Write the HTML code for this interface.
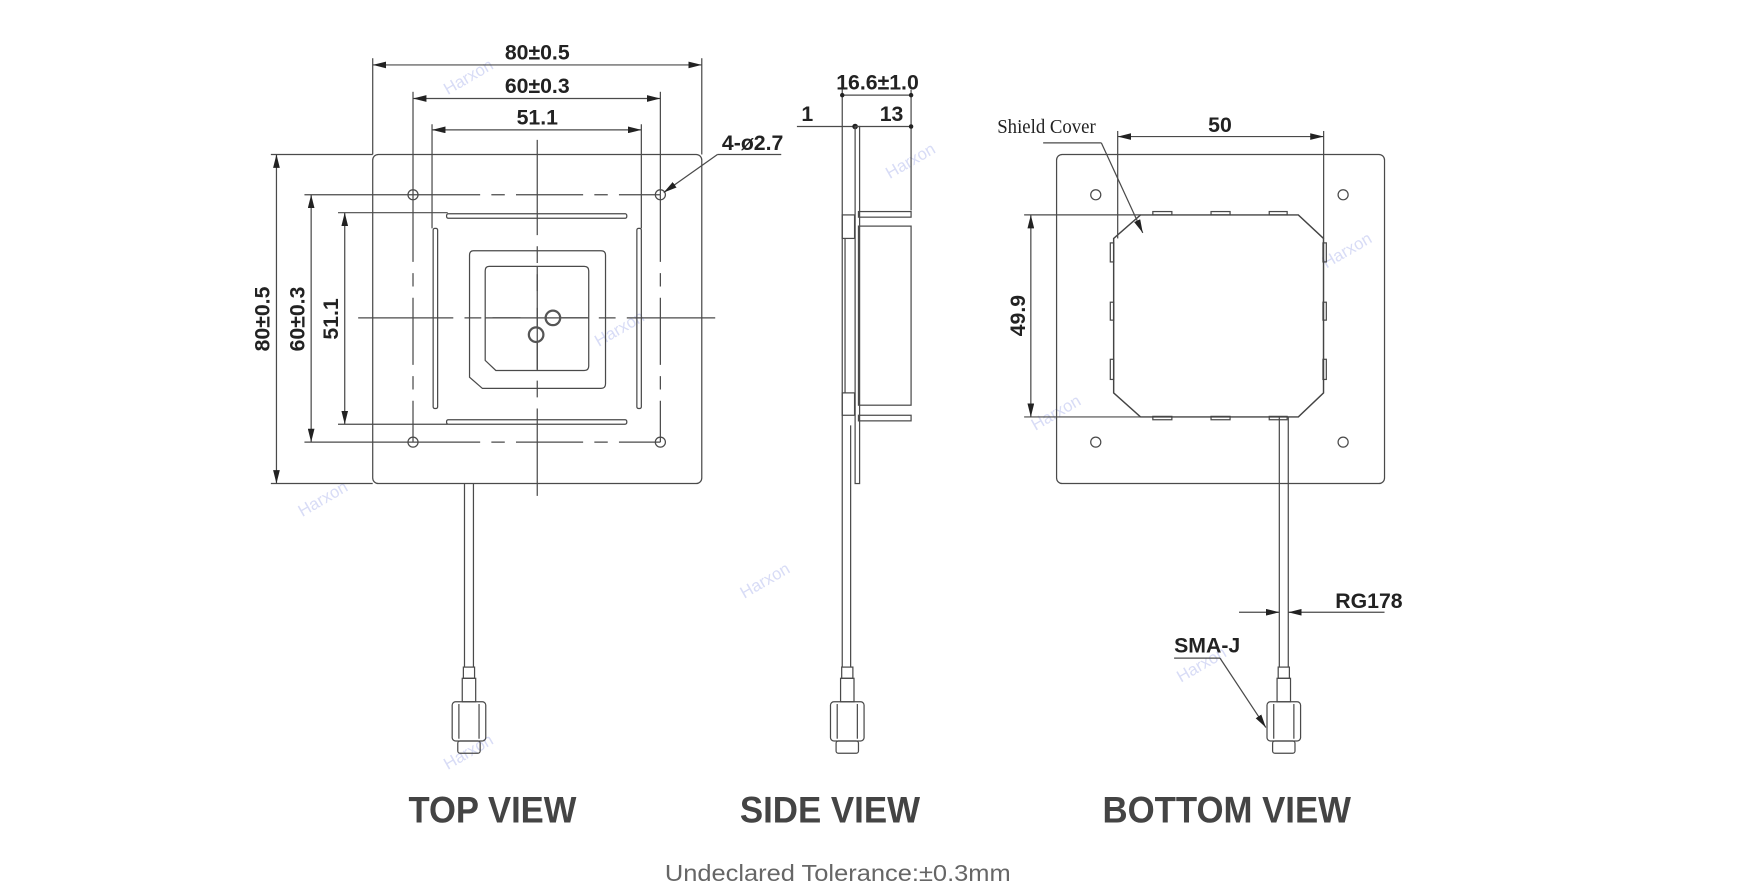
<!DOCTYPE html>
<html><head><meta charset="utf-8"><style>
html,body{margin:0;padding:0;background:#fff;}
svg{display:block;}
.l{stroke:#4a4a4a;stroke-width:1.1;fill:none;}
.t{stroke:#444;stroke-width:1.3;fill:none;}
.d{font-family:"Liberation Sans Narrow","Liberation Sans",sans-serif;font-weight:bold;fill:#222;font-size:19px;}
.v{font-family:"Liberation Sans Narrow","Liberation Sans",sans-serif;fill:#444;font-size:33px;font-weight:bold;}
.w{font-family:"Liberation Sans",sans-serif;fill:#d8dcf6;font-size:15px;}
</style></head><body>
<svg width="1755" height="895" viewBox="0 0 1568 799.6" xmlns="http://www.w3.org/2000/svg">
<defs>
<marker id="a" viewBox="0 0 12 6" refX="12" refY="3" markerWidth="12" markerHeight="6" orient="auto-start-reverse" markerUnits="userSpaceOnUse"><path d="M0,0 L12,3 L0,6 z" fill="#222"/></marker>
<g id="conn">
<rect class="l" x="-5" y="0" width="10" height="10"/>
<rect class="l" x="-6" y="10" width="12" height="21"/>
<rect class="l" x="-15" y="31" width="30" height="35" rx="3"/>
<line class="l" x1="-9" y1="33" x2="-9" y2="64"/>
<line class="l" x1="9" y1="33" x2="9" y2="64"/>
<rect class="l" x="-10" y="66" width="20" height="11" rx="2"/>
</g>
</defs>

<text class="w" transform="translate(400,85) rotate(-30)">Harxon</text>
<text class="w" transform="translate(795,160) rotate(-30)">Harxon</text>
<text class="w" transform="translate(535,310) rotate(-30)">Harxon</text>
<text class="w" transform="translate(270,462) rotate(-30)">Harxon</text>
<text class="w" transform="translate(665,535) rotate(-30)">Harxon</text>
<text class="w" transform="translate(400,688) rotate(-30)">Harxon</text>
<text class="w" transform="translate(925,385) rotate(-30)">Harxon</text>
<text class="w" transform="translate(1185,240) rotate(-30)">Harxon</text>
<text class="w" transform="translate(1055,610) rotate(-30)">Harxon</text>

<!-- TOP VIEW -->
<rect class="l" x="333" y="138" width="294" height="294" rx="5"/>
<line class="l" x1="333" y1="52" x2="333" y2="138"/>
<line class="l" x1="627" y1="52" x2="627" y2="138"/>
<line class="l" x1="333" y1="58" x2="627" y2="58" marker-start="url(#a)" marker-end="url(#a)"/>
<text class="d" x="480" y="53" text-anchor="middle">80±0.5</text>
<line class="l" x1="369" y1="82" x2="369" y2="174"/>
<line class="l" x1="590" y1="82" x2="590" y2="174"/>
<line class="l" x1="369" y1="88" x2="590" y2="88" marker-start="url(#a)" marker-end="url(#a)"/>
<text class="d" x="480" y="83" text-anchor="middle">60±0.3</text>
<line class="l" x1="386" y1="111" x2="386" y2="204"/>
<line class="l" x1="573" y1="111" x2="573" y2="204"/>
<line class="l" x1="386" y1="116" x2="573" y2="116" marker-start="url(#a)" marker-end="url(#a)"/>
<text class="d" x="480" y="111" text-anchor="middle">51.1</text>
<line class="l" x1="242" y1="138" x2="333" y2="138"/>
<line class="l" x1="242" y1="432" x2="333" y2="432"/>
<line class="l" x1="247" y1="138" x2="247" y2="432" marker-start="url(#a)" marker-end="url(#a)"/>
<text class="d" transform="translate(241,285) rotate(-90)" text-anchor="middle">80±0.5</text>
<line class="l" x1="272" y1="174" x2="369" y2="174"/>
<line class="l" x1="272" y1="395" x2="369" y2="395"/>
<line class="l" x1="278" y1="174" x2="278" y2="395" marker-start="url(#a)" marker-end="url(#a)"/>
<text class="d" transform="translate(272,285) rotate(-90)" text-anchor="middle">60±0.3</text>
<line class="l" x1="302" y1="190" x2="400" y2="190"/>
<line class="l" x1="302" y1="379" x2="400" y2="379"/>
<line class="l" x1="308" y1="190" x2="308" y2="379" marker-start="url(#a)" marker-end="url(#a)"/>
<text class="d" transform="translate(302,285) rotate(-90)" text-anchor="middle">51.1</text>
<g class="l" stroke-dasharray="60,10,12,10">
<line x1="369" y1="174" x2="369" y2="395"/>
<line x1="590" y1="174" x2="590" y2="395"/>
<line x1="369" y1="174" x2="590" y2="174"/>
<line x1="369" y1="395" x2="590" y2="395"/>
</g>
<g class="l" stroke-dasharray="85,10,15,10">
<line x1="480" y1="125" x2="480" y2="443"/>
<line x1="320" y1="284" x2="639" y2="284"/>
</g>
<circle class="l" cx="369" cy="174" r="4.5" fill="#fff"/>
<circle class="l" cx="590" cy="174" r="4.5" fill="#fff"/>
<circle class="l" cx="369" cy="395" r="4.5" fill="#fff"/>
<circle class="l" cx="590" cy="395" r="4.5" fill="#fff"/>
<rect class="l" x="399" y="191" width="161" height="4" rx="1.5"/>
<rect class="l" x="399" y="375" width="161" height="4" rx="1.5"/>
<rect class="l" x="387" y="204" width="4" height="161" rx="1.5"/>
<rect class="l" x="569" y="204" width="4" height="161" rx="1.5"/>
<path class="l" d="M423,224 H537 Q541,224 541,228 V343 Q541,347 537,347 H431 L419.5,337 V228 Q419.5,224 423,224 Z" fill="#fff"/>
<path class="l" d="M437,238 H522 Q526,238 526,242 V327 Q526,331 522,331 H443 L433.5,322 V242 Q433.5,238 437,238 Z" fill="#fff"/>
<line class="l" x1="480" y1="238" x2="480" y2="260"/><line class="l" x1="480" y1="275" x2="480" y2="292"/><line class="l" x1="480" y1="306" x2="480" y2="331"/>
<line class="l" x1="433.5" y1="284" x2="465" y2="284"/><line class="l" x1="500" y1="284" x2="526" y2="284"/>
<circle cx="494" cy="284" r="6.5" fill="none" stroke="#555" stroke-width="2"/>
<circle cx="479" cy="299" r="6.5" fill="none" stroke="#555" stroke-width="2"/>
<text class="d" x="645" y="134">4-ø2.7</text>
<line class="l" x1="641" y1="138" x2="698" y2="138"/>
<line class="l" x1="641" y1="138" x2="593" y2="172" marker-end="url(#a)"/>
<line class="l" x1="415" y1="432" x2="415" y2="596"/>
<line class="l" x1="423" y1="432" x2="423" y2="596"/>
<use href="#conn" transform="translate(419,596)"/>

<!-- SIDE VIEW -->
<line class="l" x1="752.5" y1="80" x2="752.5" y2="596"/>
<line class="l" x1="814" y1="80" x2="814" y2="188"/>
<line class="l" x1="752.5" y1="85" x2="814" y2="85"/>
<circle cx="752.5" cy="85" r="2" fill="#222"/><circle cx="814" cy="85" r="2" fill="#222"/>
<text class="d" x="784" y="80" text-anchor="middle">16.6±1.0</text>
<line class="l" x1="712" y1="113" x2="814" y2="113"/>
<circle cx="764" cy="113" r="2.5" fill="#222"/><circle cx="814" cy="113" r="2" fill="#222"/>
<text class="d" x="716" y="108">1</text>
<text class="d" x="786" y="108">13</text>
<rect class="l" x="764" y="113" width="4" height="319"/>
<rect class="l" x="767" y="189" width="47" height="5"/>
<rect class="l" x="767" y="202" width="47" height="160"/>
<rect class="l" x="767" y="371" width="47" height="5"/>
<rect class="l" x="752.5" y="192" width="11" height="21"/>
<rect class="l" x="752.5" y="351" width="11" height="20"/>
<line class="l" x1="755" y1="213" x2="755" y2="351"/>
<line class="l" x1="760" y1="380" x2="760" y2="596"/>
<use href="#conn" transform="translate(757,596)"/>

<!-- BOTTOM VIEW -->
<rect class="l" x="944" y="138" width="293" height="294" rx="5"/>
<circle class="l" cx="979" cy="174" r="4.5"/>
<circle class="l" cx="1200" cy="174" r="4.5"/>
<circle class="l" cx="979" cy="395" r="4.5"/>
<circle class="l" cx="1200" cy="395" r="4.5"/>
<g class="l">
<rect x="1030" y="189" width="17" height="3"/><rect x="1082" y="189" width="17" height="3"/><rect x="1134" y="189" width="16" height="3"/>
<rect x="1030" y="372" width="17" height="3"/><rect x="1082" y="372" width="17" height="3"/><rect x="1134" y="372" width="16" height="3"/>
<rect x="992" y="217" width="3" height="17"/><rect x="992" y="270" width="3" height="16"/><rect x="992" y="321" width="3" height="18"/>
<rect x="1182" y="217" width="3" height="17"/><rect x="1182" y="270" width="3" height="16"/><rect x="1182" y="321" width="3" height="18"/>
</g>
<path class="t" d="M1019,192 H1160 L1182.5,213 V351 L1160,372.5 H1019 L995,351 V213 Z" fill="#fff"/>
<line class="l" x1="998.6" y1="117" x2="998.6" y2="213"/>
<line class="l" x1="1182.6" y1="117" x2="1182.6" y2="213"/>
<line class="l" x1="998.6" y1="122" x2="1182.6" y2="122" marker-start="url(#a)" marker-end="url(#a)"/>
<text class="d" x="1090" y="118" text-anchor="middle">50</text>
<line class="l" x1="915" y1="192" x2="1019" y2="192"/>
<line class="l" x1="915" y1="372.5" x2="1019" y2="372.5"/>
<line class="l" x1="921" y1="192" x2="921" y2="372.5" marker-start="url(#a)" marker-end="url(#a)"/>
<text class="d" transform="translate(916,282) rotate(-90)" text-anchor="middle">49.9</text>
<text x="891" y="119" font-family="Liberation Serif,serif" font-size="18" fill="#222" textLength="88" lengthAdjust="spacingAndGlyphs">Shield Cover</text>
<line class="l" x1="932" y1="127.6" x2="984" y2="127.6"/>
<line class="l" x1="984" y1="127.6" x2="1021" y2="208" marker-end="url(#a)"/>
<line class="l" x1="1143" y1="372.5" x2="1143" y2="596"/>
<line class="l" x1="1151" y1="372.5" x2="1151" y2="596"/>
<use href="#conn" transform="translate(1147,596)"/>
<line class="l" x1="1107" y1="547" x2="1143" y2="547" marker-end="url(#a)"/>
<line class="l" x1="1237" y1="547" x2="1151" y2="547" marker-end="url(#a)"/>
<text class="d" x="1193" y="543" font-size="16">RG178</text>
<text class="d" x="1049" y="583" font-size="16">SMA-J</text>
<line class="l" x1="1049" y1="588" x2="1090" y2="588"/>
<line class="l" x1="1090" y1="588" x2="1131" y2="650" marker-end="url(#a)"/>

<text class="v" x="365" y="735" textLength="150" lengthAdjust="spacingAndGlyphs">TOP VIEW</text>
<text class="v" x="661" y="735" textLength="161" lengthAdjust="spacingAndGlyphs">SIDE VIEW</text>
<text class="v" x="985" y="735" textLength="222" lengthAdjust="spacingAndGlyphs">BOTTOM VIEW</text>
<text x="594" y="787" font-family="Liberation Sans Narrow,Liberation Sans,sans-serif" font-size="21" fill="#666" textLength="309" lengthAdjust="spacingAndGlyphs">Undeclared Tolerance:±0.3mm</text>
</svg>
</body></html>
